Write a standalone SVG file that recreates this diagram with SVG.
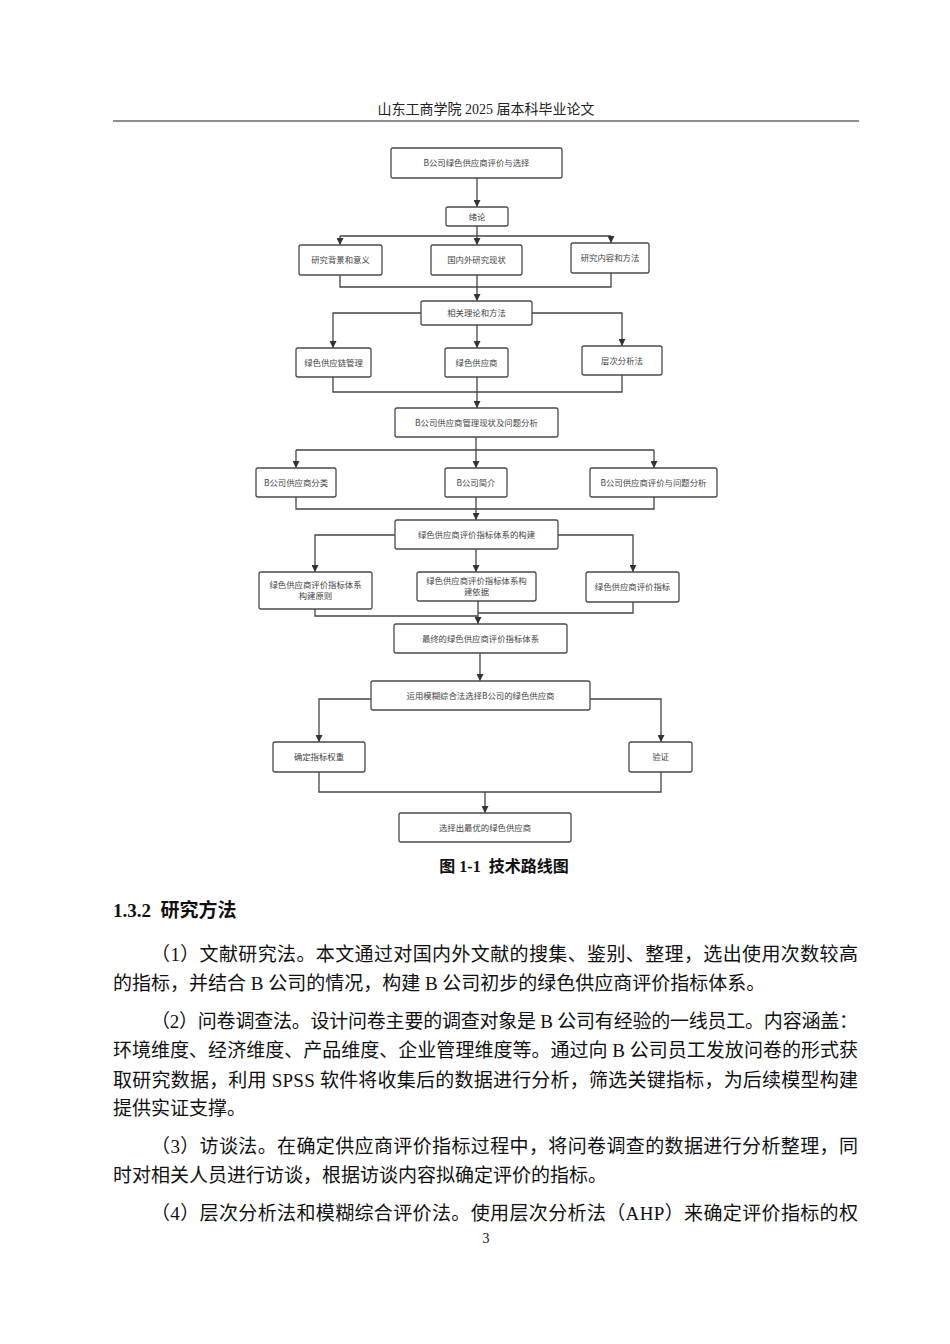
<svg xmlns="http://www.w3.org/2000/svg" width="950" height="1344" viewBox="0 0 950 1344">
<defs>
<marker id="ah" viewBox="0 0 10 10" refX="10" refY="5" markerWidth="7" markerHeight="7" markerUnits="userSpaceOnUse" orient="auto">
<path d="M0,0 L10,5 L0,10 z" fill="#333"/>
</marker>
<style>
.box{fill:#fff;stroke:#4a4a4a;stroke-width:1.3}
.bt{font-family:"Noto Sans CJK SC","Liberation Sans",sans-serif;font-size:8.4px;fill:#444;text-anchor:middle}
.ln{fill:none;stroke:#444;stroke-width:1.3}
.ar{fill:none;stroke:#444;stroke-width:1.3;marker-end:url(#ah)}
.body{font-family:"Liberation Serif","Noto Sans CJK SC",serif;font-size:19px;fill:#111}
</style>
</defs>
<rect width="950" height="1344" fill="#fff"/>
<text x="486" y="114" text-anchor="middle" font-family="Liberation Serif, Noto Sans CJK SC, serif" font-size="14" fill="#222">山东工商学院 2025 届本科毕业论文</text>
<line x1="113" y1="121" x2="859" y2="121" stroke="#222" stroke-width="1.2"/>

<g id="connectors">
<path class="ar" d="M477,178 V207"/>
<path class="ln" d="M477,226 V236 M340,236 H611"/>
<path class="ar" d="M340,236 V245"/>
<path class="ar" d="M477,236 V245"/>
<path class="ar" d="M611,236 V243"/>
<path class="ln" d="M340,275 V287 H611 V273 M477,275 V287"/>
<path class="ar" d="M477,287 V301"/>
<path class="ar" d="M421,313 H333 V348"/>
<path class="ar" d="M532,313 H622 V346"/>
<path class="ar" d="M477,325 V348"/>
<path class="ln" d="M333,377 V392 H622 V375 M477,377 V392"/>
<path class="ar" d="M477,392 V408"/>
<path class="ln" d="M476,437 V450 M296,450 H654"/>
<path class="ar" d="M296,450 V468"/>
<path class="ar" d="M476,450 V468"/>
<path class="ar" d="M654,450 V468"/>
<path class="ln" d="M296,497 V509 H654 V497"/>
<path class="ar" d="M476,497 V520"/>
<path class="ar" d="M395,535 H315 V572"/>
<path class="ar" d="M558,535 H633 V572"/>
<path class="ar" d="M476,549 V572"/>
<path class="ln" d="M315,609 V616 H478 M633,602 V613 H478"/>
<path class="ar" d="M478,601 V624"/>
<path class="ar" d="M480,653 V681"/>
<path class="ar" d="M371,699 H319 V742"/>
<path class="ar" d="M590,699 H661 V742"/>
<path class="ln" d="M319,772 V792 H661 V772"/>
<path class="ar" d="M485,792 V813"/>
</g>

<g id="n1"><rect class="box" x="391" y="148" width="171" height="30" rx="2"/><text class="bt" x="476.5" y="166">B公司绿色供应商评价与选择</text></g>
<g id="n2"><rect class="box" x="446" y="207" width="62" height="19" rx="2"/><text class="bt" x="477" y="219.5">绪论</text></g>
<g id="n3"><rect class="box" x="299" y="245" width="83" height="30" rx="2"/><text class="bt" x="340.5" y="263">研究背景和意义</text></g>
<g id="n4"><rect class="box" x="431" y="245" width="91" height="30" rx="2"/><text class="bt" x="476.5" y="263">国内外研究现状</text></g>
<g id="n5"><rect class="box" x="571" y="243" width="78" height="30" rx="2"/><text class="bt" x="610" y="261">研究内容和方法</text></g>
<g id="n6"><rect class="box" x="421" y="301" width="111" height="24" rx="2"/><text class="bt" x="476.5" y="316">相关理论和方法</text></g>
<g id="n7"><rect class="box" x="296" y="348" width="75" height="29" rx="2"/><text class="bt" x="333.5" y="365.5">绿色供应链管理</text></g>
<g id="n8"><rect class="box" x="445" y="348" width="63" height="29" rx="2"/><text class="bt" x="476.5" y="365.5">绿色供应商</text></g>
<g id="n9"><rect class="box" x="582" y="346" width="80" height="29" rx="2"/><text class="bt" x="622" y="363.5">层次分析法</text></g>
<g id="n10"><rect class="box" x="395" y="408" width="163" height="29" rx="2"/><text class="bt" x="476.5" y="425.5">B公司供应商管理现状及问题分析</text></g>
<g id="n11"><rect class="box" x="256" y="468" width="80" height="29" rx="2"/><text class="bt" x="296" y="485.5">B公司供应商分类</text></g>
<g id="n12"><rect class="box" x="445" y="468" width="62" height="29" rx="2"/><text class="bt" x="476" y="485.5">B公司简介</text></g>
<g id="n13"><rect class="box" x="590" y="468" width="127" height="29" rx="2"/><text class="bt" x="653.5" y="485.5">B公司供应商评价与问题分析</text></g>
<g id="n14"><rect class="box" x="395" y="520" width="163" height="29" rx="2"/><text class="bt" x="476.5" y="537.5">绿色供应商评价指标体系的构建</text></g>
<g id="n15"><rect class="box" x="259" y="572" width="113" height="37" rx="2"/><text class="bt" x="315.5" y="587.5">绿色供应商评价指标体系</text><text class="bt" x="315.5" y="598.5">构建原则</text></g>
<g id="n16"><rect class="box" x="417" y="572" width="119" height="29" rx="2"/><text class="bt" x="476.5" y="583.5">绿色供应商评价指标体系构</text><text class="bt" x="476.5" y="594.5">建依据</text></g>
<g id="n17"><rect class="box" x="586" y="572" width="93" height="30" rx="2"/><text class="bt" x="632.5" y="590">绿色供应商评价指标</text></g>
<g id="n18"><rect class="box" x="394" y="624" width="173" height="29" rx="2"/><text class="bt" x="480.5" y="641.5">最终的绿色供应商评价指标体系</text></g>
<g id="n19"><rect class="box" x="371" y="681" width="219" height="29" rx="2"/><text class="bt" x="480.5" y="698.5">运用模糊综合法选择B公司的绿色供应商</text></g>
<g id="n20"><rect class="box" x="273" y="742" width="92" height="30" rx="2"/><text class="bt" x="319" y="760">确定指标权重</text></g>
<g id="n21"><rect class="box" x="629" y="742" width="63" height="30" rx="2"/><text class="bt" x="660.5" y="760">验证</text></g>
<g id="n22"><rect class="box" x="399" y="813" width="172" height="29" rx="2"/><text class="bt" x="485" y="830.5">选择出最优的绿色供应商</text></g>

<text x="504" y="872" text-anchor="middle" font-family="Liberation Serif, Noto Sans CJK SC, serif" font-size="16" font-weight="bold" fill="#111" xml:space="preserve">图 1-1  技术路线图</text>

<text x="113" y="917" font-family="Liberation Serif, Noto Sans CJK SC, serif" font-size="19" font-weight="bold" fill="#111" xml:space="preserve">1.3.2  研究方法</text>

<g class="body">
<text x="151" y="961" textLength="707" lengthAdjust="spacing">（1）文献研究法。本文通过对国内外文献的搜集、鉴别、整理，选出使用次数较高</text>
<text x="113" y="990">的指标，并结合 B 公司的情况，构建 B 公司初步的绿色供应商评价指标体系。</text>
<text x="151" y="1028" textLength="707" lengthAdjust="spacing">（2）问卷调查法。设计问卷主要的调查对象是 B 公司有经验的一线员工。内容涵盖：</text>
<text x="113" y="1057" textLength="745" lengthAdjust="spacing">环境维度、经济维度、产品维度、企业管理维度等。通过向 B 公司员工发放问卷的形式获</text>
<text x="113" y="1087" textLength="745" lengthAdjust="spacing">取研究数据，利用 SPSS 软件将收集后的数据进行分析，筛选关键指标，为后续模型构建</text>
<text x="113" y="1115">提供实证支撑。</text>
<text x="151" y="1153" textLength="707" lengthAdjust="spacing">（3）访谈法。在确定供应商评价指标过程中，将问卷调查的数据进行分析整理，同</text>
<text x="113" y="1182">时对相关人员进行访谈，根据访谈内容拟确定评价的指标。</text>
<text x="151" y="1220" textLength="707" lengthAdjust="spacing">（4）层次分析法和模糊综合评价法。使用层次分析法（AHP）来确定评价指标的权</text>
</g>
<text x="486" y="1243" text-anchor="middle" font-family="Liberation Serif, serif" font-size="14" fill="#111">3</text>
</svg>
